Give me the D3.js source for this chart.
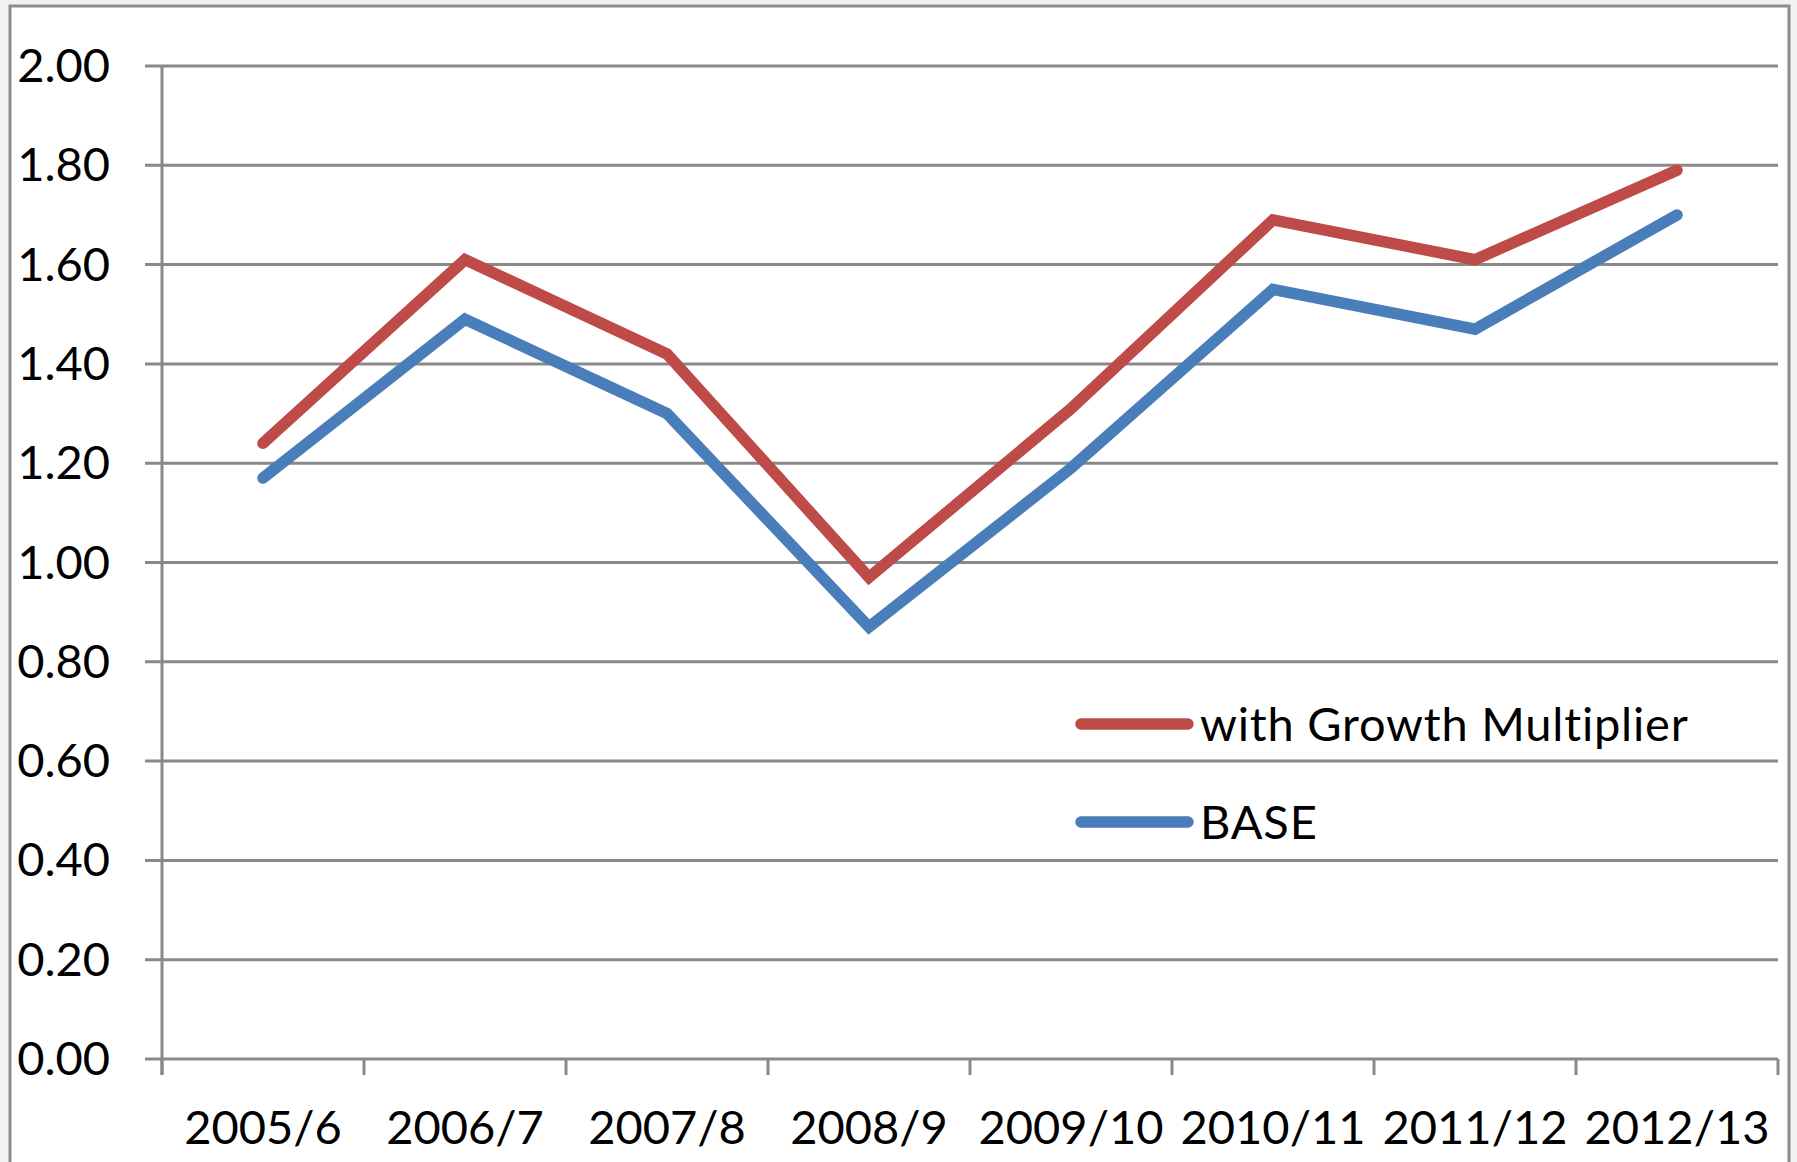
<!DOCTYPE html>
<html>
<head>
<meta charset="utf-8">
<script src="https://cdn.jsdelivr.net/npm/d3@7"></script>
<style>
  html, body { margin: 0; padding: 0; background: #f2f2f2; }
  svg { display: block; }
  text { font-family: Lato, "Open Sans", sans-serif; fill: #000; }
</style>
</head>
<body>
<svg id="chart" width="1797" height="1162"></svg>
<script>
// Financial years on the category axis
const categories = ["2005/6", "2006/7", "2007/8", "2008/9", "2009/10", "2010/11", "2011/12", "2012/13"];
// Series values
const growthMultiplier = [1.24, 1.61, 1.42, 0.97, 1.31, 1.69, 1.61, 1.79];
const baseValues = [1.17, 1.49, 1.30, 0.87, 1.19, 1.55, 1.47, 1.70];
const seriesNames = ["with Growth Multiplier", "BASE"];
// Value axis ticks
const yTicks = [0, 0.2, 0.4, 0.6, 0.8, 1.0, 1.2, 1.4, 1.6, 1.8, 2.0];

const series = [
  { name: seriesNames[0], values: growthMultiplier, color: "#BE4B48" },
  { name: seriesNames[1], values: baseValues, color: "#4A7EBB" }
];

const svg = d3.select("#chart");
const gridColor = "#898989";

const plot = { left: 162, right: 1778, top: 66, bottom: 1059 };

// Chart area frame
svg.append("rect")
  .attr("x", 10).attr("y", 6)
  .attr("width", 1779).attr("height", 1200)
  .attr("fill", "#fff")
  .attr("stroke", "#8c8c8c").attr("stroke-width", 3);

const x = d3.scaleBand().domain(categories).range([plot.left, plot.right]).padding(0);
const y = d3.scaleLinear().domain([0, 2]).range([plot.bottom, plot.top]);

// Horizontal gridlines with tick labels
const yAxis = svg.append("g");
yAxis.selectAll("line.grid")
  .data(yTicks)
  .join("line")
  .attr("class", "grid")
  .attr("x1", plot.left - 17).attr("x2", plot.right)
  .attr("y1", d => y(d)).attr("y2", d => y(d))
  .attr("stroke", gridColor).attr("stroke-width", 3);

yAxis.selectAll("text")
  .data(yTicks)
  .join("text")
  .attr("x", 110)
  .attr("y", d => y(d) + 16)
  .attr("text-anchor", "end")
  .attr("font-size", 47)
  .text(d => d.toFixed(2));

// Vertical value axis line
svg.append("line")
  .attr("x1", plot.left).attr("x2", plot.left)
  .attr("y1", plot.top).attr("y2", plot.bottom + 16)
  .attr("stroke", gridColor).attr("stroke-width", 3);

// Category axis tick marks at band boundaries
const boundaries = categories.map(c => x(c)).concat([x(categories[categories.length - 1]) + x.bandwidth()]);
svg.append("g").selectAll("line")
  .data(boundaries)
  .join("line")
  .attr("x1", d => d).attr("x2", d => d)
  .attr("y1", plot.bottom).attr("y2", plot.bottom + 16)
  .attr("stroke", gridColor).attr("stroke-width", 3);

// Category labels
svg.append("g").selectAll("text")
  .data(categories)
  .join("text")
  .attr("x", d => x(d) + x.bandwidth() / 2)
  .attr("y", 1144)
  .attr("text-anchor", "middle")
  .attr("font-size", 47)
  .text(d => d);

// Series lines
const line = d3.line()
  .x((d, i) => x(categories[i]) + x.bandwidth() / 2)
  .y(d => y(d));

svg.append("g").selectAll("path")
  .data(series.slice().reverse())
  .join("path")
  .attr("d", d => line(d.values))
  .attr("fill", "none")
  .attr("stroke", d => d.color)
  .attr("stroke-width", 11.5)
  .attr("stroke-linecap", "round")
  .attr("stroke-linejoin", "miter");

// Legend
const legend = svg.append("g");
const legendRows = legend.selectAll("g")
  .data(series)
  .join("g")
  .attr("transform", (d, i) => `translate(1081, ${724 + i * 98})`);

legendRows.append("line")
  .attr("x1", 0).attr("x2", 107)
  .attr("y1", 0).attr("y2", 0)
  .attr("stroke", d => d.color)
  .attr("stroke-width", 11.5)
  .attr("stroke-linecap", "round");

legendRows.append("text")
  .attr("x", 119)
  .attr("y", 17)
  .attr("font-size", 47)
  .attr("letter-spacing", 0.8)
  .text(d => d.name);
</script>
</body>
</html>
